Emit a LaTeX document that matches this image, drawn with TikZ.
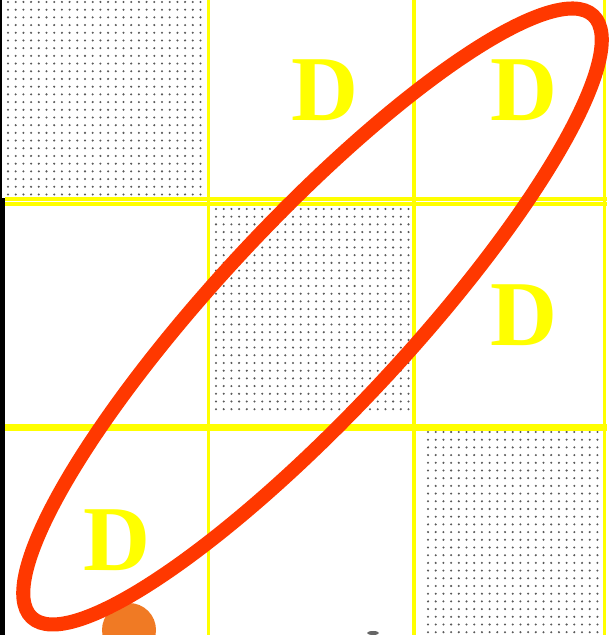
\documentclass[tikz,border=0pt]{standalone}
\usepackage{fontspec}
\setmainfont{Liberation Serif}
\definecolor{ringred}{RGB}{255,56,0}
\definecolor{gridyellow}{RGB}{255,255,0}
\definecolor{blob}{RGB}{240,122,36}

\begin{document}
\begin{tikzpicture}[
		x=0.025cm, y=0.025cm,
		gridline/.style={draw=gridyellow, line width=2.8pt},
		dot/.style={fill=black!65},
		letter/.style={text=gridyellow, inner sep=0pt, font=\fontsize{66}{66}\selectfont\bfseries},
		ring/.style={draw=ringred, line width=10pt}
		]
		
		\clip (0,0) rectangle (615,635);
		\useasboundingbox (0,0) rectangle (615,635);
		
		% left black edge
		\fill[black] (0,0) rectangle (5,437);
		\fill[black] (0,437) rectangle (2,635);
		
		% stippled cells
		\foreach \i in {0,...,25}
			\foreach \j in {0,...,25}
				\fill[dot] ({8+7.7*\i},{633-7.7*\j}) circle (1.15);
		\foreach \i in {0,...,25}
			\foreach \j in {0,...,26}
				\fill[dot] ({216+7.7*\i},{426-7.7*\j}) circle (1.15);
		\foreach \i in {0,...,22}
			\foreach \j in {0,...,26}
				\fill[dot] ({428+7.7*\i},{203-7.7*\j}) circle (1.15);
		
		% yellow grid
		\draw[gridline] (208.5,0) -- (208.5,635);
		\draw[gridline] (414,0) -- (414,635);
		\draw[gridline] (604.5,0) -- (604.5,635);
		\draw[gridline] (5,436) -- (607,436);
		\draw[gridline] (5,431) -- (607,431);
		\draw[gridline, line width=4.6pt] (5,207.5) -- (607,207.5);
		
		% letters
		\node[letter] (d1) at (325.5,545) {D};
		\node[letter] (d2) at (524,545) {D};
		\node[letter] (d3) at (524,320) {D};
		\node[letter] (d4) at (117,95) {D};
		
		% bits at the bottom edge
		\fill[blob] (129,5) circle (27);
		\fill[black!60] (373,2) ellipse (6 and 2);
		
		% ring round the diagonal
		\draw[ring, rotate around={47:(312.5,318.5)}] (312.5,318.5) ellipse (411.6 and 95);
		
	\end{tikzpicture}
\end{document}
